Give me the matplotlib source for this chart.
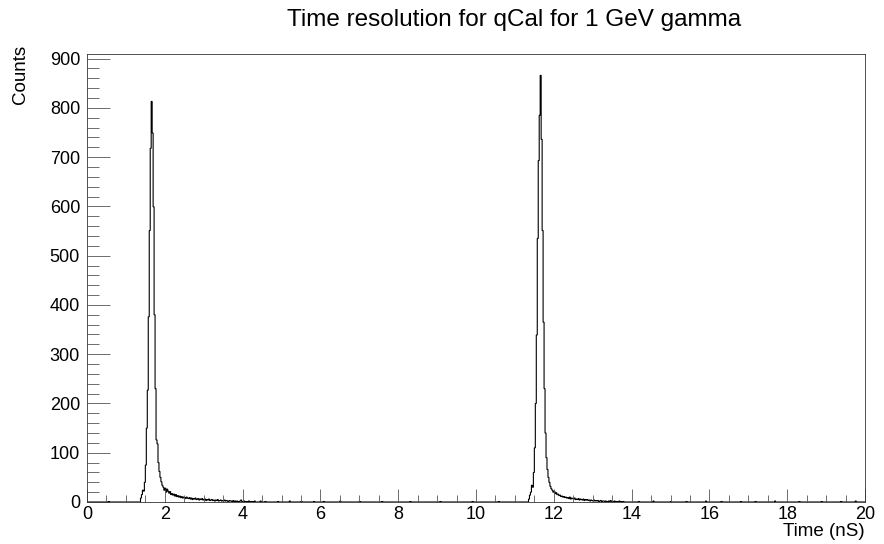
import numpy as np
import matplotlib
matplotlib.use('Agg')
from matplotlib import pyplot as plt
from matplotlib.ticker import MultipleLocator

plt.rcParams['font.family'] = ['Liberation Sans', 'DejaVu Sans']

# histogram binning: 0 - 20 ns, 0.025 ns per bin
t_min, t_max, bin_w = 0.0, 20.0, 0.025

# first peak, counts per bin starting at 1.350 ns
peak1_start = 1.350
peak1_counts = [0, 8, 15, 24, 22, 40, 75, 150, 227, 376,
                551, 718, 813, 749, 599, 380, 230, 126, 118]
# tail after the first peak, starting at 1.825 ns
tail1_start = 1.825
tail1_counts = [80, 62, 50, 41, 34, 30, 24, 28, 20, 26,
                22, 18, 21, 15, 17, 14, 16, 12, 15, 11,
                13, 10, 12, 9, 11, 8, 10, 9, 7, 10,
                8, 7, 9, 6, 8, 5, 7, 6, 8, 5,
                6, 7, 4, 6, 5, 7, 4, 5, 6, 3,
                5, 4, 6, 3, 4, 5, 3, 4, 2, 4,
                3, 5, 2, 3, 4, 2, 3, 2, 4, 2,
                3, 2, 1, 3, 2, 2, 1, 3, 1, 2,
                1, 2, 0, 1, 2, 4, 1, 0, 2, 1,
                1, 0, 1, 2, 0, 1, 0, 1, 0, 2]

# second peak, counts per bin starting at 11.325 ns
peak2_start = 11.325
peak2_counts = [0, 6, 14, 20, 34, 30, 60, 110, 200, 339,
                535, 693, 785, 866, 736, 551, 365, 230, 140, 90]
# tail after the second peak, starting at 11.825 ns
tail2_start = 11.825
tail2_counts = [66, 50, 40, 32, 27, 24, 20, 22, 17, 19,
                15, 16, 13, 14, 11, 12, 10, 11, 9, 10,
                8, 9, 7, 10, 6, 8, 7, 6, 8, 5,
                6, 5, 7, 4, 6, 5, 4, 6, 3, 5,
                4, 5, 3, 4, 2, 4, 3, 2, 4, 2,
                3, 2, 3, 1, 2, 3, 1, 2, 2, 1,
                2, 1, 0, 2, 1, 3, 1, 0, 1, 2,
                0, 1, 1, 0, 2, 0, 1, 0, 1, 0]

# isolated small entries elsewhere (time ns, counts)
blip_times = [0.55, 4.45, 4.6, 4.9, 5.2, 5.5, 5.85, 6.1, 6.5, 7.0,
              7.6, 8.3, 9.1, 9.9, 10.6, 14.2, 14.55, 15.0, 15.4, 15.9,
              16.3, 16.8, 17.2, 17.7, 18.3, 18.9, 19.4, 19.75]
blip_counts = [1, 2, 1, 1, 2, 1, 1, 1, 2, 1,
               1, 1, 1, 1, 1, 1, 2, 1, 1, 2,
               1, 1, 1, 2, 1, 1, 1, 2]

n_bins = int(round((t_max - t_min) / bin_w))
edges = np.linspace(t_min, t_max, n_bins + 1)
counts = np.zeros(n_bins)


def fill(start, vals):
    i0 = int(round((start - t_min) / bin_w))
    counts[i0:i0 + len(vals)] = vals


for t, c in zip(blip_times, blip_counts):
    counts[int((t - t_min) / bin_w)] = c
fill(peak1_start, peak1_counts)
fill(tail1_start, tail1_counts)
fill(peak2_start, peak2_counts)
fill(tail2_start, tail2_counts)

fig = plt.figure(figsize=(8.84, 5.44), dpi=100)
ax = fig.add_axes([87 / 884, 1 - 502 / 544, (865 - 87) / 884, (502 - 54) / 544])
ax.stairs(counts, edges, color='black', linewidth=0.8)

ax.set_xlim(t_min, t_max)
ax.set_ylim(0, max(counts) * 1.05)

ax.xaxis.set_major_locator(MultipleLocator(2))
ax.xaxis.set_minor_locator(MultipleLocator(0.5))
ax.yaxis.set_major_locator(MultipleLocator(100))
ax.yaxis.set_minor_locator(MultipleLocator(20))
ax.tick_params(axis='both', which='both', direction='in', top=False, right=False,
               labelsize=13, width=0.6, color='#555555')
ax.tick_params(axis='x', which='major', length=9.4, pad=3)
ax.tick_params(axis='x', which='minor', length=4.8)
ax.tick_params(axis='y', which='major', length=16.5, pad=5)
ax.tick_params(axis='y', which='minor', length=8.5)
for s in ax.spines.values():
    s.set_linewidth(0.6)
    s.set_color('#333333')

fig.text(514 / 884, 1 - 20 / 544, 'Time resolution for qCal for 1 GeV gamma',
         ha='center', va='center', fontsize=17.5)
fig.text(865 / 884, 1 - 532 / 544, 'Time (nS)', ha='right', va='center', fontsize=13.5)
fig.text(21 / 884, 1 - 74 / 544, 'Counts', ha='center', va='center', rotation=90, fontsize=13.5)

fig.savefig('out.png', dpi=100)
